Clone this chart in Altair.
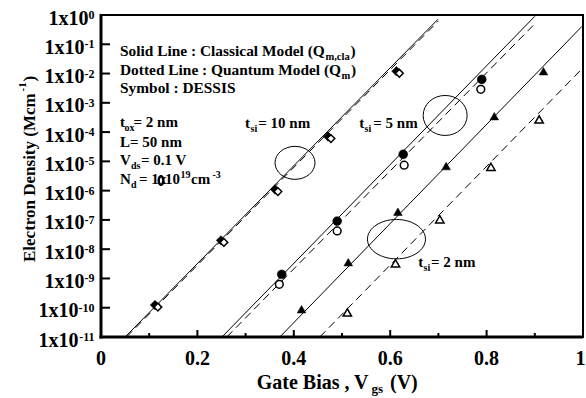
import altair as alt
import pandas as pd

FONT = "Liberation Serif"

# ---- model curves (gate bias in V, electron density in M cm^-1), end points ----
vgs_10nm_cla = [0.050, 0.699]
n_10nm_cla = [1e-11, 7.1e-1]
vgs_10nm_qm = [0.053, 0.700]
n_10nm_qm = [1e-11, 6.3e-1]
vgs_5nm_cla = [0.251, 0.900]
n_5nm_cla = [1e-11, 9.0e-1]
vgs_5nm_qm = [0.261, 0.902]
n_5nm_qm = [1e-11, 5.4e-1]
vgs_2nm_cla = [0.371, 0.998]
n_2nm_cla = [1e-11, 4.1e-1]
vgs_2nm_qm = [0.454, 0.997]
n_2nm_qm = [1e-11, 1.4e-2]

# ---- DESSIS simulation symbols ----
vgs_10nm_sym_cla = [0.112, 0.249, 0.361, 0.471, 0.613]
n_10nm_sym_cla = [1.23e-10, 2.0e-8, 1.1e-6, 7.1e-5, 1.2e-2]
vgs_10nm_sym_qm = [0.118, 0.255, 0.367, 0.477, 0.619]
n_10nm_sym_qm = [1.05e-10, 1.7e-8, 9.3e-7, 6.0e-5, 1.02e-2]
vgs_5nm_sym_cla = [0.375, 0.490, 0.627, 0.790]
n_5nm_sym_cla = [1.38e-9, 9.1e-8, 1.74e-5, 6.3e-3]
vgs_5nm_sym_qm = [0.370, 0.490, 0.629, 0.788]
n_5nm_sym_qm = [6.3e-10, 4.2e-8, 7.4e-6, 2.9e-3]
vgs_2nm_sym_cla = [0.416, 0.513, 0.616, 0.716, 0.816, 0.918]
n_2nm_sym_cla = [8.9e-11, 3.6e-9, 1.9e-7, 6.9e-6, 3.5e-4, 1.2e-2]
vgs_2nm_sym_qm = [0.511, 0.611, 0.703, 0.809, 0.909]
n_2nm_sym_qm = [6.9e-11, 3.3e-9, 1.05e-7, 6.5e-6, 2.7e-4]

# ---- ellipses marking each t_si family ----
ellipse_vgs = [0.4025, 0.714, 0.613]
ellipse_n = [8.9e-6, 3.7e-4, 2.2e-8]

# ---- axis ticks ----
x_major = [0.0, 0.2, 0.4, 0.6, 0.8, 1.0]
x_major_labels = ["0", "0.2", "0.4", "0.6", "0.8", "1"]
x_minor = [0.1, 0.3, 0.5, 0.7, 0.9]
y_exponents = [0, -1, -2, -3, -4, -5, -6, -7, -8, -9, -10, -11]

W, H = 482, 322
LEFT, TOP = 101, 15

xs = alt.Scale(domain=[0, 1], nice=False)
ys = alt.Scale(type="log", domain=[1e-11, 1], nice=False)
X = alt.X("vgs:Q", scale=xs, axis=None)
Y = alt.Y("n:Q", scale=ys, axis=None)


def curve_frame(pairs):
    rows = []
    for name, vv, nn in pairs:
        for v, n in zip(vv, nn):
            rows.append({"series": name, "vgs": v, "n": n})
    return pd.DataFrame(rows)


solid = curve_frame([
    ("10nm", vgs_10nm_cla, n_10nm_cla),
    ("5nm", vgs_5nm_cla, n_5nm_cla),
    ("2nm", vgs_2nm_cla, n_2nm_cla),
])
dashed = curve_frame([
    ("10nm", vgs_10nm_qm, n_10nm_qm),
    ("5nm", vgs_5nm_qm, n_5nm_qm),
    ("2nm", vgs_2nm_qm, n_2nm_qm),
])

layers = []
layers.append(alt.Chart(solid).mark_line(color="black", strokeWidth=1, clip=True)
              .encode(x=X, y=Y, detail="series:N"))
layers.append(alt.Chart(dashed).mark_line(color="black", strokeWidth=1, strokeDash=[8, 5], clip=True)
              .encode(x=X, y=Y, detail="series:N"))


def symbols(vv, nn, shape, filled, size):
    df = pd.DataFrame({"vgs": vv, "n": nn})
    if filled:
        mk = dict(shape=shape, filled=True, fill="black", stroke="black",
                  strokeWidth=0.5, size=size, opacity=1)
    else:
        mk = dict(shape=shape, filled=True, fill="white", stroke="black",
                  strokeWidth=1.5, size=size, opacity=1)
    return alt.Chart(df).mark_point(**mk).encode(x=X, y=Y)


layers.append(symbols(vgs_10nm_sym_cla, n_10nm_sym_cla, "diamond", True, 90))
layers.append(symbols(vgs_10nm_sym_qm, n_10nm_sym_qm, "diamond", False, 60))
layers.append(symbols(vgs_5nm_sym_cla, n_5nm_sym_cla, "circle", True, 80))
layers.append(symbols(vgs_5nm_sym_qm, n_5nm_sym_qm, "circle", False, 60))
layers.append(symbols(vgs_2nm_sym_cla, n_2nm_sym_cla, "triangle-up", True, 75))
layers.append(symbols(vgs_2nm_sym_qm, n_2nm_sym_qm, "triangle-up", False, 70))


def ellipse_path(rx, ry):
    k = 0.5523
    return (f"M {-rx} 0 C {-rx} {-k*ry} {-k*rx} {-ry} 0 {-ry} "
            f"C {k*rx} {-ry} {rx} {-k*ry} {rx} 0 "
            f"C {rx} {k*ry} {k*rx} {ry} 0 {ry} "
            f"C {-k*rx} {ry} {-rx} {k*ry} {-rx} 0 Z")


# (half width, half height) in px for each ellipse
ellipse_sizes = [(20, 16.5), (22, 20), (29, 19.7)]
for v, n, (a, b) in zip(ellipse_vgs, ellipse_n, ellipse_sizes):
    big = max(a, b)
    layers.append(
        alt.Chart(pd.DataFrame({"vgs": [v], "n": [n]}))
        .mark_point(shape=ellipse_path(a / big, b / big), size=(2 * big) ** 2,
                    filled=False, stroke="black", strokeWidth=1, opacity=1)
        .encode(x=X, y=Y)
    )

# ---- axes: ticks pointing inward, thick left/bottom spines ----
ytick_df = pd.DataFrame({"n": [10.0 ** e for e in y_exponents],
                         "exp": [str(e) for e in y_exponents],
                         "w": [len(str(e)) for e in y_exponents]})
layers.append(alt.Chart(ytick_df).mark_rule(color="black", strokeWidth=2)
              .encode(y=Y, x=alt.value(0), x2=alt.value(9)))
layers.append(alt.Chart(pd.DataFrame({"vgs": x_major})).mark_rule(color="black", strokeWidth=2)
              .encode(x=X, y=alt.value(H), y2=alt.value(H - 7)))
layers.append(alt.Chart(pd.DataFrame({"vgs": x_minor})).mark_rule(color="black", strokeWidth=2)
              .encode(x=X, y=alt.value(H), y2=alt.value(H - 4)))
one = pd.DataFrame({"a": [0]})
layers.append(alt.Chart(one).mark_rule(color="black", strokeWidth=3)
              .encode(x=alt.value(0), y=alt.value(-1), y2=alt.value(H + 1.5)))
layers.append(alt.Chart(one).mark_rule(color="black", strokeWidth=3)
              .encode(y=alt.value(H), x=alt.value(-1.5), x2=alt.value(W)))

# y tick labels: "1x10" with a raised exponent
exp_width = {1: 6, 2: 10, 3: 16}
for w, ew in exp_width.items():
    layers.append(
        alt.Chart(ytick_df).transform_filter(alt.datum.w == w)
        .mark_text(font=FONT, fontWeight="bold", fontSize=20, align="right",
                   baseline="alphabetic", dy=9.5, color="black")
        .encode(y=Y, x=alt.value(-6.5 - ew), text=alt.value("1x10"))
    )
layers.append(
    alt.Chart(ytick_df)
    .mark_text(font=FONT, fontWeight="bold", fontSize=12, align="right",
               baseline="alphabetic", dy=4, color="black")
    .encode(y=Y, x=alt.value(-6.5), text="exp:N")
)
# x tick labels (the last one nudged in so it stays on the canvas)
xlab_df = pd.DataFrame({"vgs": x_major, "lab": x_major_labels})
layers.append(
    alt.Chart(xlab_df).transform_filter(alt.datum.vgs < 1)
    .mark_text(font=FONT, fontWeight="bold", fontSize=20, align="center",
               baseline="alphabetic", color="black")
    .encode(x=X, y=alt.value(365 - TOP), text="lab:N")
)
layers.append(
    alt.Chart(xlab_df).transform_filter(alt.datum.vgs >= 1)
    .mark_text(font=FONT, fontWeight="bold", fontSize=20, align="center",
               baseline="alphabetic", color="black", dx=-2.5)
    .encode(x=X, y=alt.value(365 - TOP), text="lab:N")
)


def txt(s, px, py, size=15, angle=0):
    props = dict(text=s, font=FONT, fontWeight="bold", fontSize=size,
                 align="left", baseline="alphabetic", color="black")
    if angle:
        props["angle"] = angle
    return alt.Chart(one).mark_text(**props).encode(
        x=alt.value(px - LEFT), y=alt.value(py - TOP))


# notes inside the plot
layers += [
    txt("Solid Line : Classical Model (Q", 120, 56, 15.4),
    txt("m,cla", 325.5, 59.5, 10.5),
    txt(")", 350.5, 56, 15.4),
    txt("Dotted Line : Quantum Model (Q", 120, 75, 15.4),
    txt("m", 341.5, 78.5, 10.5),
    txt(")", 351, 75, 15.4),
    txt("Symbol : DESSIS", 120, 93, 15.4),
    txt("t", 120, 127, 15), txt("ox", 124.5, 130.5, 10), txt("= 2 nm", 133.5, 127, 15),
    txt("L= 50 nm", 120, 147, 15),
    txt("V", 120, 165, 15), txt("ds", 131, 168.5, 10), txt("= 0.1 V", 141, 165, 15),
    txt("N", 120, 184, 15), txt("d", 131, 187.5, 10), txt("= 1x", 139, 184, 15),
    txt("10", 165, 184, 15),
    txt("19", 180.5, 178, 10), txt("cm", 191, 184, 15), txt("-3", 212.5, 178, 10),
    txt("t", 245, 128, 15), txt("si", 250.5, 131.5, 10), txt("= 10 nm", 258.3, 128, 15),
    txt("t", 359.3, 128.3, 15), txt("si", 364.5, 131.8, 10), txt("= 5 nm", 373.3, 128.3, 15),
    txt("t", 418.3, 267.3, 15), txt("si", 423.5, 270.8, 10), txt("= 2 nm", 431, 267.3, 15),
]
# ink blot over the "x" of the doping value
blot = ellipse_path(0.64, 1.0)
layers.append(alt.Chart(one).mark_point(shape=blot, size=121, filled=True, fill="black",
                                        strokeWidth=0, opacity=1)
              .encode(x=alt.value(161 - LEFT), y=alt.value(180.5 - TOP)))
layers.append(alt.Chart(one).mark_point(shape=ellipse_path(0.35, 1.0), size=36, filled=True,
                                        fill="white", strokeWidth=0, opacity=1)
              .encode(x=alt.value(161 - LEFT), y=alt.value(180.5 - TOP)))

# axis titles
layers += [
    txt("Gate Bias , V", 256.7, 388.5, 20),
    txt("gs", 371.5, 393, 13),
    txt("(V)", 390, 388.5, 20),
    txt("Electron Density (Mcm", 34.5, 262, 17, angle=270),
    txt("-1", 26, 91.5, 11, angle=270),
    txt(")", 34.5, 81.5, 17, angle=270),
]

chart = alt.layer(*layers).properties(
    width=W, height=H,
    autosize=alt.AutoSizeParams(type="none"),
    padding={"left": LEFT, "top": TOP, "right": 586 - LEFT - W, "bottom": 398 - TOP - H},
    background="white",
).configure_view(stroke="black", strokeWidth=2)

chart.save("out.html", embed_options={"renderer": "svg", "actions": False})
